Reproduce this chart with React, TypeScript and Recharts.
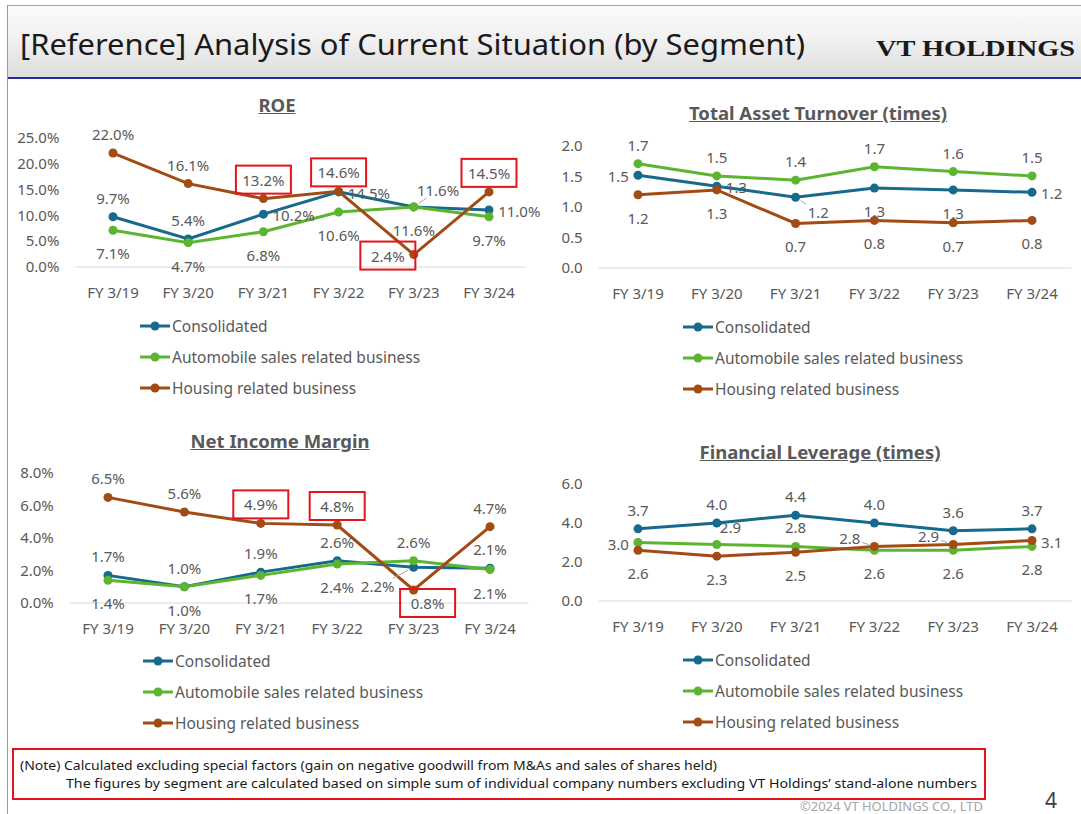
import React from "react";
import { LineChart, Line, XAxis, YAxis, LabelList } from "recharts";

// categories and series
const years = ["FY 3/19", "FY 3/20", "FY 3/21", "FY 3/22", "FY 3/23", "FY 3/24"];
const segments = ["Consolidated", "Automobile sales related business", "Housing related business"];
const segmentColors = ["#176a8c", "#5cb531", "#a24b14"];

const roeConsolidated = [9.7, 5.4, 10.2, 14.5, 11.6, 11.0];
const roeAutomobile = [7.1, 4.7, 6.8, 10.6, 11.6, 9.7];
const roeHousing = [22.0, 16.1, 13.2, 14.6, 2.4, 14.5];
const roeTicks = [0, 5, 10, 15, 20, 25];

const tatConsolidated = [1.52, 1.34, 1.16, 1.31, 1.28, 1.24];
const tatAutomobile = [1.71, 1.51, 1.44, 1.66, 1.58, 1.51];
const tatHousing = [1.2, 1.28, 0.73, 0.78, 0.74, 0.78];
const tatTicks = [0, 0.5, 1, 1.5, 2];

const nimConsolidated = [1.7, 1.0, 1.9, 2.6, 2.2, 2.14];
const nimAutomobile = [1.4, 1.0, 1.7, 2.4, 2.6, 2.06];
const nimHousing = [6.5, 5.6, 4.9, 4.8, 0.8, 4.7];
const nimTicks = [0, 2, 4, 6, 8];

const levConsolidated = [3.7, 4.0, 4.4, 4.0, 3.6, 3.7];
const levAutomobile = [3.0, 2.9, 2.8, 2.6, 2.6, 2.8];
const levHousing = [2.6, 2.3, 2.5, 2.8, 2.9, 3.1];
const levTicks = [0, 2, 4, 6];

// where each data label sits relative to its point (Excel placed them by hand),
// a trailing * means the label has a leader line
const roeSpots = [
  ["t", "t", "r", "r", "tr*", "r"],
  ["b", "b", "b", "b", "b", "b"],
  ["t", "t", "t", "t", "l", "t"],
];
const roeBoxed = [[], [], [2, 3, 4, 5]];
const tatSpots = [
  ["l", "r*", "br*", "b", "b", "r"],
  ["t", "t", "t", "t", "t", "t"],
  ["b", "b", "b", "b", "b", "b"],
];
const nimSpots = [
  ["t", "t", "t", "t", "bl*", "t"],
  ["b", "b", "b", "b", "t", "b"],
  ["t", "t", "t", "t", "bx", "t"],
];
const nimBoxed = [[], [], [2, 3, 4]];
const levSpots = [
  ["t", "t", "t", "t", "t", "t"],
  ["l", "tr", "t", "b", "b", "b"],
  ["b", "b", "b", "tl*", "tl*", "r"],
];

const FONT = '"Noto Sans", "Open Sans", sans-serif';
const TEXT = "#595959";

const pct = (v: number) => `${v.toFixed(1)}%`;
const one = (v: number) => v.toFixed(1);

function textWidth(s: string) {
  let w = 0;
  for (const ch of s) w += ch === "." ? 4.1 : ch === "%" ? 12.6 : 8.6;
  return w;
}

const spotTable: Record<string, (w: number) => [number, number]> = {
  t: () => [0, -19],
  b: () => [0, 23],
  l: (w) => [-(9 + w / 2), 1],
  r: (w) => [9 + w / 2, 1],
  tr: (w) => [w / 2 + 3, -17],
  br: (w) => [w / 2 + 12, 15],
  bx: () => [14, 13],
  bl: (w) => [-(w / 2 + 19), 19],
  tl: (w) => [-(w / 2 + 14), -8],
};

function makeLabel(spots: string[], boxed: number[], fmt: (v: number) => string) {
  return (props: any) => {
    const x = props.x ?? props.viewBox?.x;
    const y = props.y ?? props.viewBox?.y;
    const i = props.index;
    if (x == null || y == null || props.value == null) return null;
    const text = fmt(Number(props.value));
    const w = textWidth(text);
    const code = spots[i] ?? "t";
    const leader = code.endsWith("*");
    const [dx, dy] = spotTable[code.replace("*", "")](w);
    const cx = x + dx;
    const cy = y + dy;
    let lead = null;
    if (leader) {
      // from the label's edge to just short of the point
      const hw = w / 2 + 2;
      const hh = 8;
      const s = Math.min(hw / Math.abs(dx || 1e-6), hh / Math.abs(dy || 1e-6));
      const len = Math.hypot(dx, dy);
      const ex = cx - dx * s;
      const ey = cy - dy * s;
      const px = x + (dx / len) * 6;
      const py = y + (dy / len) * 6;
      lead = <line x1={ex} y1={ey} x2={px} y2={py} stroke="#a6a6a6" strokeWidth={1} />;
    }
    return (
      <g>
        {lead}
        {boxed.includes(i) && (
          <rect x={cx - 27.5} y={cy - 14} width={55} height={28} fill="none" stroke="#e5131b" strokeWidth={2} />
        )}
        <text x={cx} y={cy} textAnchor="middle" dominantBaseline="central" fontSize={15} fontFamily={FONT} fill={TEXT}>
          {text}
        </text>
      </g>
    );
  };
}

type PanelProps = {
  title: string;
  titleX: number;
  titleY: number;
  left: number;
  top: number;
  plot: { l: number; r: number; t: number; b: number };
  series: number[][];
  spots: string[][];
  boxed?: number[][];
  ticks: number[];
  tickFmt: (v: number) => string;
  labelFmt: (v: number) => string;
  legendX: number;
  legendY: number;
};

const W = 541;
const H = 200;
const YW = 50;
const XH = 40;

function Panel(p: PanelProps) {
  const data = years.map((year, i) => ({ year, s0: p.series[0][i], s1: p.series[1][i], s2: p.series[2][i] }));
  const band = (p.plot.r - p.plot.l) / years.length;
  const margin = {
    left: p.plot.l - p.left - YW,
    right: p.left + W - p.plot.r,
    top: p.plot.t - p.top,
    bottom: H - (p.plot.b - p.top) - XH,
  };
  const tickStyle = { fill: TEXT, fontSize: 15, fontFamily: FONT };
  return (
    <>
      <div
        style={{
          position: "absolute",
          left: p.titleX - 200,
          width: 400,
          top: p.titleY - 13,
          height: 26,
          lineHeight: "26px",
          textAlign: "center",
          fontFamily: FONT,
          fontWeight: 700,
          fontSize: 18.5,
          color: TEXT,
          textDecoration: "underline",
        }}
      >
        {p.title}
      </div>
      <div style={{ position: "absolute", left: p.left, top: p.top }}>
        <LineChart width={W} height={H} data={data} margin={margin}>
          <XAxis
            dataKey="year"
            height={XH}
            interval={0}
            padding={{ left: band / 2, right: band / 2 }}
            axisLine={{ stroke: "#d9d9d9", strokeWidth: 1 }}
            tickLine={false}
            tickSize={0}
            tickMargin={20}
            tick={tickStyle}
          />
          <YAxis
            width={YW}
            domain={[p.ticks[0], p.ticks[p.ticks.length - 1]]}
            ticks={p.ticks}
            tickFormatter={p.tickFmt}
            axisLine={false}
            tickLine={false}
            tickSize={0}
            tickMargin={16}
            tick={tickStyle}
            interval={0}
          />
          {segments.map((name, k) => (
            <Line
              key={name}
              dataKey={`s${k}`}
              name={name}
              type="linear"
              stroke={segmentColors[k]}
              strokeWidth={3}
              dot={{ r: 4.5, fill: segmentColors[k], stroke: segmentColors[k], strokeWidth: 0 }}
              activeDot={false}
              isAnimationActive={false}
            >
              <LabelList dataKey={`s${k}`} content={makeLabel(p.spots[k], p.boxed ? p.boxed[k] : [], p.labelFmt)} />
            </Line>
          ))}
        </LineChart>
      </div>
      <div style={{ position: "absolute", left: p.legendX, top: p.legendY - 12 }}>
        {segments.map((name, k) => (
          <div key={name} style={{ height: 31, display: "flex", alignItems: "flex-start" }}>
            <svg width={32} height={24} style={{ display: "block" }}>
              <line x1={0} x2={30} y1={12} y2={12} stroke={segmentColors[k]} strokeWidth={3} />
              <circle cx={15} cy={12} r={4.5} fill={segmentColors[k]} />
            </svg>
            <span style={{ fontFamily: FONT, fontSize: 15.5, color: TEXT, lineHeight: "24px", whiteSpace: "nowrap" }}>
              {name}
            </span>
          </div>
        ))}
      </div>
    </>
  );
}

export default function App() {
  return (
    <div
      style={{
        position: "absolute",
        left: 0,
        top: 0,
        width: 1081,
        height: 814,
        background: "#ffffff",
        overflow: "hidden",
      }}
    >
      <style>{`.recharts-surface{overflow:visible}`}</style>
      <div
        style={{
          position: "absolute",
          left: 7,
          top: 5,
          width: 1074,
          height: 72,
          borderTop: "1px solid #a6a6a6",
          background: "linear-gradient(#fbfbfb, #f1f1f1 45%, #dcdcdc)",
        }}
      />
      <div style={{ position: "absolute", left: 7, top: 77, width: 1074, height: 2, background: "#2a2aa0" }} />
      <div style={{ position: "absolute", left: 7, top: 5, width: 1, height: 809, background: "#9a9a9a" }} />
      <svg width={1081} height={814} style={{ position: "absolute", left: 0, top: 0 }}>
        <text x={20} y={55} fontFamily={FONT} fontSize={29} fill="#1a1a1a" textLength={785} lengthAdjust="spacingAndGlyphs">
          [Reference] Analysis of Current Situation (by Segment)
        </text>
        <text
          x={876}
          y={56}
          fontFamily='"Liberation Serif", serif'
          fontWeight={700}
          fontSize={24}
          fill="#1a1a1a"
          textLength={199}
          lengthAdjust="spacingAndGlyphs"
        >
          VT HOLDINGS
        </text>
        <rect x={13} y={749} width={972} height={50} fill="none" stroke="#e5131b" strokeWidth={2} />
        <text x={20} y={770} fontFamily={FONT} fontSize={13} fill="#1a1a1a" textLength={697} lengthAdjust="spacingAndGlyphs">
          (Note) Calculated excluding special factors (gain on negative goodwill from M&amp;As and sales of shares held)
        </text>
        <text x={66} y={788} fontFamily={FONT} fontSize={13} fill="#1a1a1a" textLength={911} lengthAdjust="spacingAndGlyphs">
          The figures by segment are calculated based on simple sum of individual company numbers excluding VT Holdings’ stand-alone numbers
        </text>
        <text x={800} y={811} fontFamily={FONT} fontSize={12} fill="#a6a6a6" textLength={183} lengthAdjust="spacingAndGlyphs">
          ©2024 VT HOLDINGS CO., LTD
        </text>
        <text x={1051} y={808} textAnchor="middle" fontFamily={FONT} fontSize={21} fill="#404040">
          4
        </text>
      </svg>

      <Panel
        title="ROE"
        titleX={277}
        titleY={105}
        left={0}
        top={120}
        plot={{ l: 75.4, r: 526.6, t: 137.5, b: 267 }}
        series={[roeConsolidated, roeAutomobile, roeHousing]}
        spots={roeSpots}
        boxed={roeBoxed}
        ticks={roeTicks}
        tickFmt={pct}
        labelFmt={pct}
        legendX={140}
        legendY={326}
      />
      <Panel
        title="Total Asset Turnover (times)"
        titleX={818}
        titleY={113}
        left={540}
        top={120}
        plot={{ l: 598.6, r: 1071.4, t: 146, b: 268 }}
        series={[tatConsolidated, tatAutomobile, tatHousing]}
        spots={tatSpots}
        ticks={tatTicks}
        tickFmt={one}
        labelFmt={one}
        legendX={683}
        legendY={327}
      />
      <Panel
        title="Net Income Margin"
        titleX={280}
        titleY={441}
        left={0}
        top={460}
        plot={{ l: 69.8, r: 528.2, t: 473, b: 603 }}
        series={[nimConsolidated, nimAutomobile, nimHousing]}
        spots={nimSpots}
        boxed={nimBoxed}
        ticks={nimTicks}
        tickFmt={pct}
        labelFmt={pct}
        legendX={143}
        legendY={661}
      />
      <Panel
        title="Financial Leverage (times)"
        titleX={820}
        titleY={452}
        left={540}
        top={460}
        plot={{ l: 598.6, r: 1071.4, t: 484, b: 601 }}
        series={[levConsolidated, levAutomobile, levHousing]}
        spots={levSpots}
        ticks={levTicks}
        tickFmt={one}
        labelFmt={one}
        legendX={683}
        legendY={660}
      />
    </div>
  );
}
